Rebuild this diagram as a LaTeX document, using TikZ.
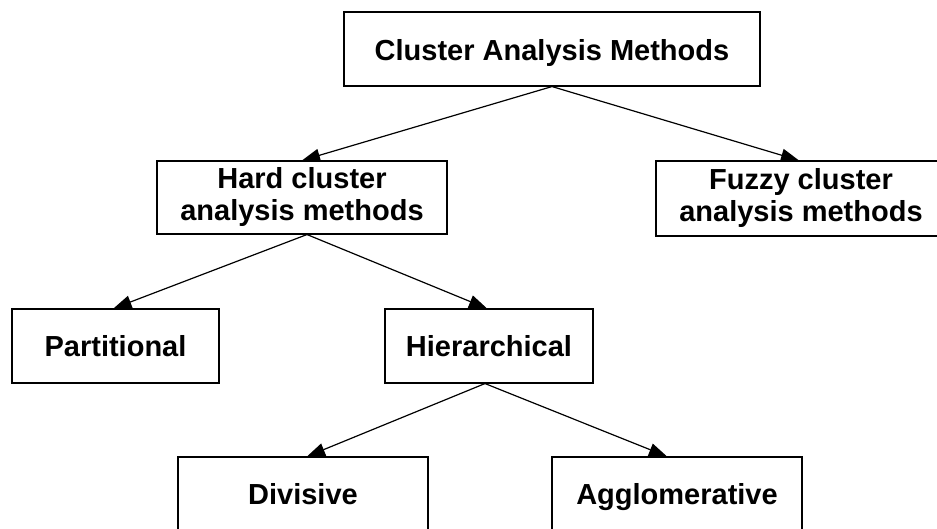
\documentclass[tikz,border=0pt]{standalone}
\usepackage{fontspec}
\setmainfont{Liberation Sans}
\usetikzlibrary{arrows.meta}
\begin{document}
\begin{tikzpicture}[x=1pt,y=-1pt,
  box/.style={draw=black, line width=1.1pt, fill=white, align=center,
    inner sep=0pt, font=\fontsize{29}{32}\selectfont\bfseries},
  oneline/.style={text height=24pt, text depth=3pt},
  link/.style={line width=1.2pt, -{Triangle[length=18pt,width=13pt]}}]
  \useasboundingbox (0,0) rectangle (937,529);
  % tree of methods
  \node[box, oneline, text height=27pt, minimum width=416pt, minimum height=74pt] (cam) at (552,49) {Cluster Analysis Methods};
  \node[box, minimum width=290pt, minimum height=73pt] (hard) at (302,197.5) {Hard cluster\\analysis methods};
  \node[box, minimum width=290pt, minimum height=75pt] (fuzzy) at (801,198.5) {Fuzzy cluster\\analysis methods};
  \node[box, oneline, minimum width=207pt, minimum height=74pt] (part) at (115.5,346) {Partitional};
  \node[box, oneline, minimum width=208pt, minimum height=74pt] (hier) at (489,346) {Hierarchical};
  \node[box, oneline, minimum width=250pt, minimum height=74pt] (div) at (303,494) {Divisive};
  \node[box, oneline, minimum width=250pt, minimum height=74pt] (agg) at (677,494) {Agglomerative};
  % connectors
  \draw[link] (cam.south) -- (hard.north);
  \draw[link] (cam.south) -- ([xshift=-2pt]fuzzy.north);
  \draw[link] ([xshift=5pt]hard.south) -- ([xshift=-2pt]part.north);
  \draw[link] ([xshift=5pt]hard.south) -- ([xshift=-2pt]hier.north);
  \draw[link] ([xshift=-4pt]hier.south) -- ([xshift=4pt]div.north);
  \draw[link] ([xshift=-4pt]hier.south) -- ([xshift=-10pt]agg.north);
\end{tikzpicture}
\end{document}
